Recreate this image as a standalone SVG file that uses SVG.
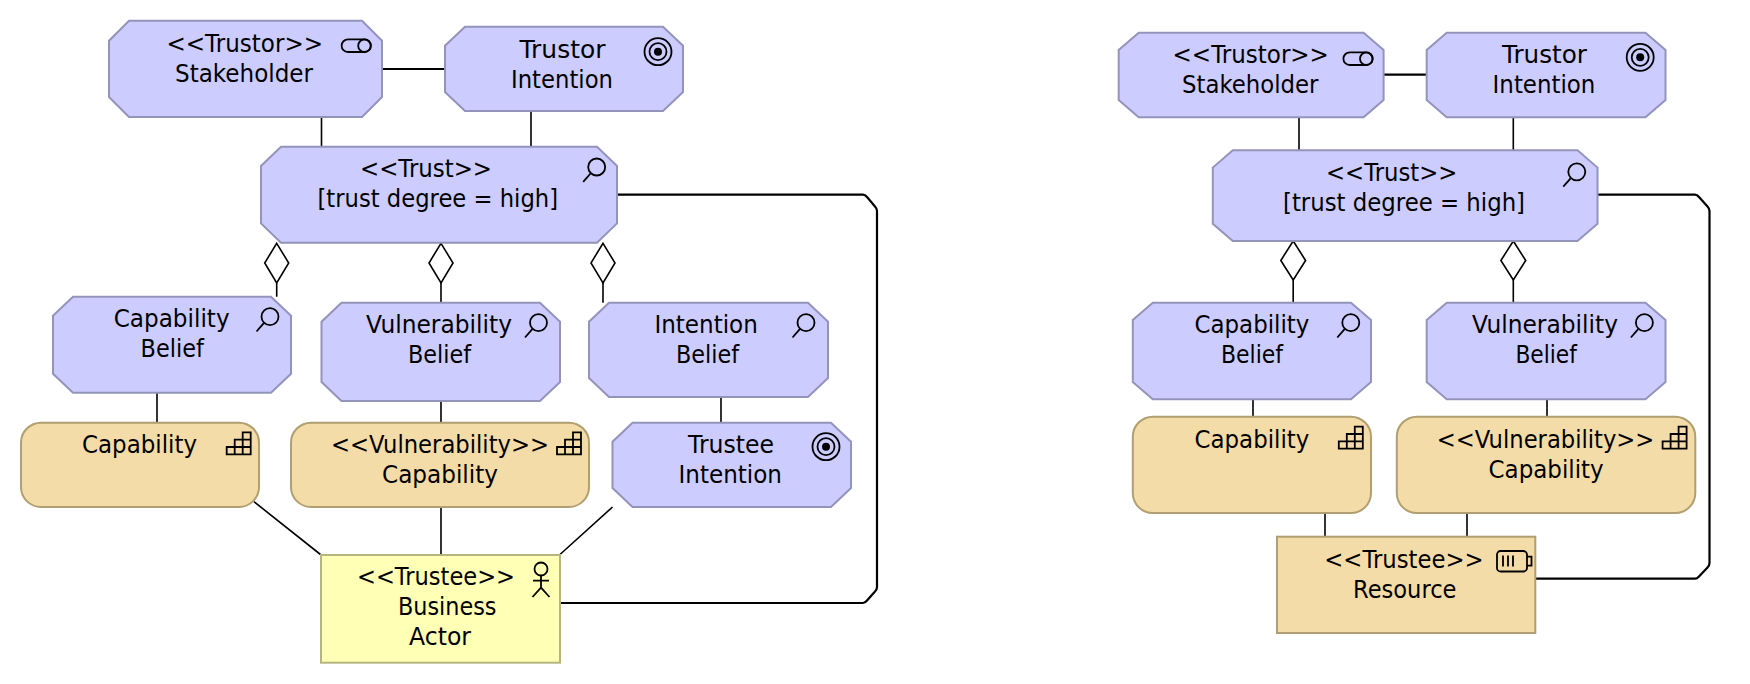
<svg xmlns="http://www.w3.org/2000/svg" width="1750" height="684" viewBox="0 0 1750 684">
<style>
text{font-family:"DejaVu Sans","Liberation Sans",sans-serif;font-size:24px;fill:#000}
.m{fill:#ccccff;stroke:#9494bb;stroke-width:2}
.c{fill:#f4dca8;stroke:#b09f70;stroke-width:2}
.a{fill:#ffffb5;stroke:#b5b57f;stroke-width:2}
.l{fill:none;stroke:#000;stroke-width:1.6}
.t{fill:none;stroke:#000;stroke-width:2.2}
.d{fill:#fff;stroke:#000;stroke-width:1.6}
.i{fill:none;stroke:#000;stroke-width:1.8}
.f{fill:#000;stroke:none}
</style>
<defs>
<g id="role"><rect class="i" x="0.900" y="0.900" width="29.200" height="12.600" rx="6.300"/><circle class="i" cx="23.800" cy="7.200" r="6.300"/></g>
<g id="goal"><circle class="i" r="13.500"/><circle class="i" r="8.500"/><circle class="f" r="4"/></g>
<g id="mag"><circle class="i" r="8.500"/><path class="i" d="M-6.200 6.500L-13.500 14.800"/></g>
<g id="cap"><path class="i" d="M0 22V14.700H8V7.300H16V0H24V22ZM16 7.300H24M8 14.700H24M8 14.700V22M16 7.300V22"/></g>
</defs>
<g id="connectors">
<path class="t" d="M382 69H445M617 194.700H863Q865 194.700 867 197L875 206.500Q877 208.500 877 211V587Q877 589.500 875 591.500L867 600.500Q865 603 863 603H560"/>
<path class="l" d="M321.500 117V147M531 111V147M276.700 283V296.700M441 283V302.700M603 283V302.700M157 392.700V422.700M441 401V422.700M721 397V422.700M254 501.700L320.500 554.500M441 507V555M612.500 507L560 554.500"/>
<polygon class="d" points="276.700,243.300 288.700,263 276.700,283 264.700,263"/>
<polygon class="d" points="441,243.300 453,263 441,283 429,263"/>
<polygon class="d" points="603,243.300 615,263 603,283 591,263"/>
<path class="t" d="M1383.600 74.700H1426.700M1597.500 194.700H1695Q1697 194.700 1699 197L1707.500 206.500Q1709.500 208.500 1709.500 211V563Q1709.500 565.500 1707.500 567.500L1699 576.500Q1697 578.700 1695 578.700H1535.300"/>
<path class="l" d="M1299 117.300V150.300M1513.300 117.300V150.300M1293.200 280V302.700M1513.300 280V302.700M1253 399.300V416.700M1547 399.300V416.700M1325 513V536.700M1467 513V536.700"/>
<polygon class="d" points="1293.200,241 1305.600,260.500 1293.200,280 1280.800,260.500"/>
<polygon class="d" points="1513.300,241 1525.700,260.500 1513.300,280 1500.900,260.500"/>
</g>
<g id="l-stakeholder"><polygon class="m" points="129,20.700 362,20.700 382,40.700 382,97 362,117 129,117 109,97 109,40.700"/>
<text x="166.500" y="51.700" textLength="156.500" lengthAdjust="spacingAndGlyphs">&lt;&lt;Trustor&gt;&gt;</text><text x="175" y="81.700" textLength="138" lengthAdjust="spacingAndGlyphs">Stakeholder</text><use href="#role" x="340.700" y="38.500"/></g>
<g id="l-trustor-intention"><polygon class="m" points="465,26.700 663,26.700 683,45.700 683,92 663,111 465,111 445,92 445,45.700"/>
<text x="519.500" y="58" textLength="86" lengthAdjust="spacingAndGlyphs">Trustor</text><text x="511" y="88" textLength="102" lengthAdjust="spacingAndGlyphs">Intention</text><use href="#goal" x="658" y="51.700"/></g>
<g id="l-trust"><polygon class="m" points="281,146.700 597,146.700 617,166 617,223.400 597,242.700 281,242.700 261,223.400 261,166"/>
<text x="360" y="176.700" textLength="132" lengthAdjust="spacingAndGlyphs">&lt;&lt;Trust&gt;&gt;</text><text x="317.500" y="206.700" textLength="240.500" lengthAdjust="spacingAndGlyphs">[trust degree = high]</text><use href="#mag" x="596.700" y="167"/></g>
<g id="l-capability-belief"><polygon class="m" points="73,296.700 271,296.700 291,315.700 291,373.700 271,392.700 73,392.700 53,373.700 53,315.700"/>
<text x="113.700" y="326.700" textLength="115.900" lengthAdjust="spacingAndGlyphs">Capability</text><text x="140.600" y="357" textLength="63.200" lengthAdjust="spacingAndGlyphs">Belief</text><use href="#mag" x="270" y="316.700"/></g>
<g id="l-vulnerability-belief"><polygon class="m" points="341.500,302.700 540,302.700 560,321.700 560,382 540,401 341.500,401 321.500,382 321.500,321.700"/>
<text x="366" y="333" textLength="146" lengthAdjust="spacingAndGlyphs">Vulnerability</text><text x="408" y="363" textLength="63" lengthAdjust="spacingAndGlyphs">Belief</text><use href="#mag" x="538.500" y="322.700"/></g>
<g id="l-intention-belief"><polygon class="m" points="609,302.700 808,302.700 828,321.700 828,378 808,397 609,397 589,378 589,321.700"/>
<text x="654.400" y="333" textLength="103.400" lengthAdjust="spacingAndGlyphs">Intention</text><text x="676" y="363" textLength="63" lengthAdjust="spacingAndGlyphs">Belief</text><use href="#mag" x="806" y="322.700"/></g>
<g id="l-capability"><rect class="c" x="21" y="422.700" width="238" height="84.300" rx="20"/>
<text x="82" y="453" textLength="115" lengthAdjust="spacingAndGlyphs">Capability</text><use href="#cap" x="226.700" y="432.300"/></g>
<g id="l-vulnerability-capability"><rect class="c" x="291" y="422.700" width="298" height="84.300" rx="20"/>
<text x="331" y="453" textLength="218" lengthAdjust="spacingAndGlyphs">&lt;&lt;Vulnerability&gt;&gt;</text><text x="382" y="483" textLength="116" lengthAdjust="spacingAndGlyphs">Capability</text><use href="#cap" x="557" y="432.300"/></g>
<g id="l-trustee-intention"><polygon class="m" points="632.500,422.700 831,422.700 851,441.700 851,488 831,507 632.500,507 612.500,488 612.500,441.700"/>
<text x="688" y="453" textLength="86" lengthAdjust="spacingAndGlyphs">Trustee</text><text x="678.500" y="483" textLength="103.500" lengthAdjust="spacingAndGlyphs">Intention</text><use href="#goal" x="826" y="446.700"/></g>
<g id="l-business-actor"><rect class="a" x="321" y="555" width="239" height="107.700"/>
<text x="357" y="585" textLength="158" lengthAdjust="spacingAndGlyphs">&lt;&lt;Trustee&gt;&gt;</text><text x="398" y="615" textLength="98.500" lengthAdjust="spacingAndGlyphs">Business</text><text x="409" y="645" textLength="62" lengthAdjust="spacingAndGlyphs">Actor</text>
<circle class="i" cx="541" cy="569" r="6.500"/><path class="i" d="M541 575.500V587.700M533 580.700H549M532.500 597L541 587.700L549.500 597"/></g>
<g id="r-stakeholder"><polygon class="m" points="1138.700,32.700 1363.600,32.700 1383.600,50 1383.600,100 1363.600,117.300 1138.700,117.300 1118.700,100 1118.700,50"/>
<text x="1172.600" y="63.300" textLength="156.300" lengthAdjust="spacingAndGlyphs">&lt;&lt;Trustor&gt;&gt;</text><text x="1182" y="93.300" textLength="136.500" lengthAdjust="spacingAndGlyphs">Stakeholder</text><use href="#role" x="1342.500" y="51.500"/></g>
<g id="r-trustor-intention"><polygon class="m" points="1446.700,32.700 1645.500,32.700 1665.500,50 1665.500,100 1645.500,117.300 1446.700,117.300 1426.700,100 1426.700,50"/>
<text x="1502" y="63.300" textLength="85" lengthAdjust="spacingAndGlyphs">Trustor</text><text x="1492.600" y="93.300" textLength="102.800" lengthAdjust="spacingAndGlyphs">Intention</text><use href="#goal" x="1640.200" y="57.300"/></g>
<g id="r-trust"><polygon class="m" points="1232.800,150.300 1577.500,150.300 1597.500,167.600 1597.500,223.700 1577.500,241 1232.800,241 1212.800,223.700 1212.800,167.600"/>
<text x="1326" y="181" textLength="131.400" lengthAdjust="spacingAndGlyphs">&lt;&lt;Trust&gt;&gt;</text><text x="1283" y="211" textLength="242" lengthAdjust="spacingAndGlyphs">[trust degree = high]</text><use href="#mag" x="1576.800" y="171.800"/></g>
<g id="r-capability-belief"><polygon class="m" points="1152.800,302.700 1351,302.700 1371,320 1371,382 1351,399.300 1152.800,399.300 1132.800,382 1132.800,320"/>
<text x="1194.500" y="333" textLength="114.900" lengthAdjust="spacingAndGlyphs">Capability</text><text x="1221" y="363" textLength="62" lengthAdjust="spacingAndGlyphs">Belief</text><use href="#mag" x="1350.800" y="322.700"/></g>
<g id="r-vulnerability-belief"><polygon class="m" points="1446.700,302.700 1645.500,302.700 1665.500,320 1665.500,382 1645.500,399.300 1446.700,399.300 1426.700,382 1426.700,320"/>
<text x="1472" y="333" textLength="146" lengthAdjust="spacingAndGlyphs">Vulnerability</text><text x="1515.400" y="363" textLength="61.400" lengthAdjust="spacingAndGlyphs">Belief</text><use href="#mag" x="1644.400" y="322.700"/></g>
<g id="r-capability"><rect class="c" x="1132.800" y="416.700" width="238.200" height="96.300" rx="20"/>
<text x="1194.500" y="447.700" textLength="114.900" lengthAdjust="spacingAndGlyphs">Capability</text><use href="#cap" x="1338.800" y="426.700"/></g>
<g id="r-vulnerability-capability"><rect class="c" x="1396.800" y="416.700" width="298.500" height="96.300" rx="20"/>
<text x="1436.700" y="447.700" textLength="217.600" lengthAdjust="spacingAndGlyphs">&lt;&lt;Vulnerability&gt;&gt;</text><text x="1488.500" y="477.700" textLength="115.200" lengthAdjust="spacingAndGlyphs">Capability</text><use href="#cap" x="1662.600" y="426.700"/></g>
<g id="r-resource"><rect class="c" x="1277" y="536.700" width="258.300" height="96.300"/>
<text x="1324.300" y="567.700" textLength="159.200" lengthAdjust="spacingAndGlyphs">&lt;&lt;Trustee&gt;&gt;</text><text x="1353" y="597.700" textLength="103.500" lengthAdjust="spacingAndGlyphs">Resource</text>
<rect class="i" x="1497" y="551" width="30" height="20.500" rx="3.500"/><path class="i" d="M1527 556.700H1531.500V565.700H1527M1503 555.500V566.500M1508 555.500V566.500M1513 555.500V566.500"/></g>
</svg>
